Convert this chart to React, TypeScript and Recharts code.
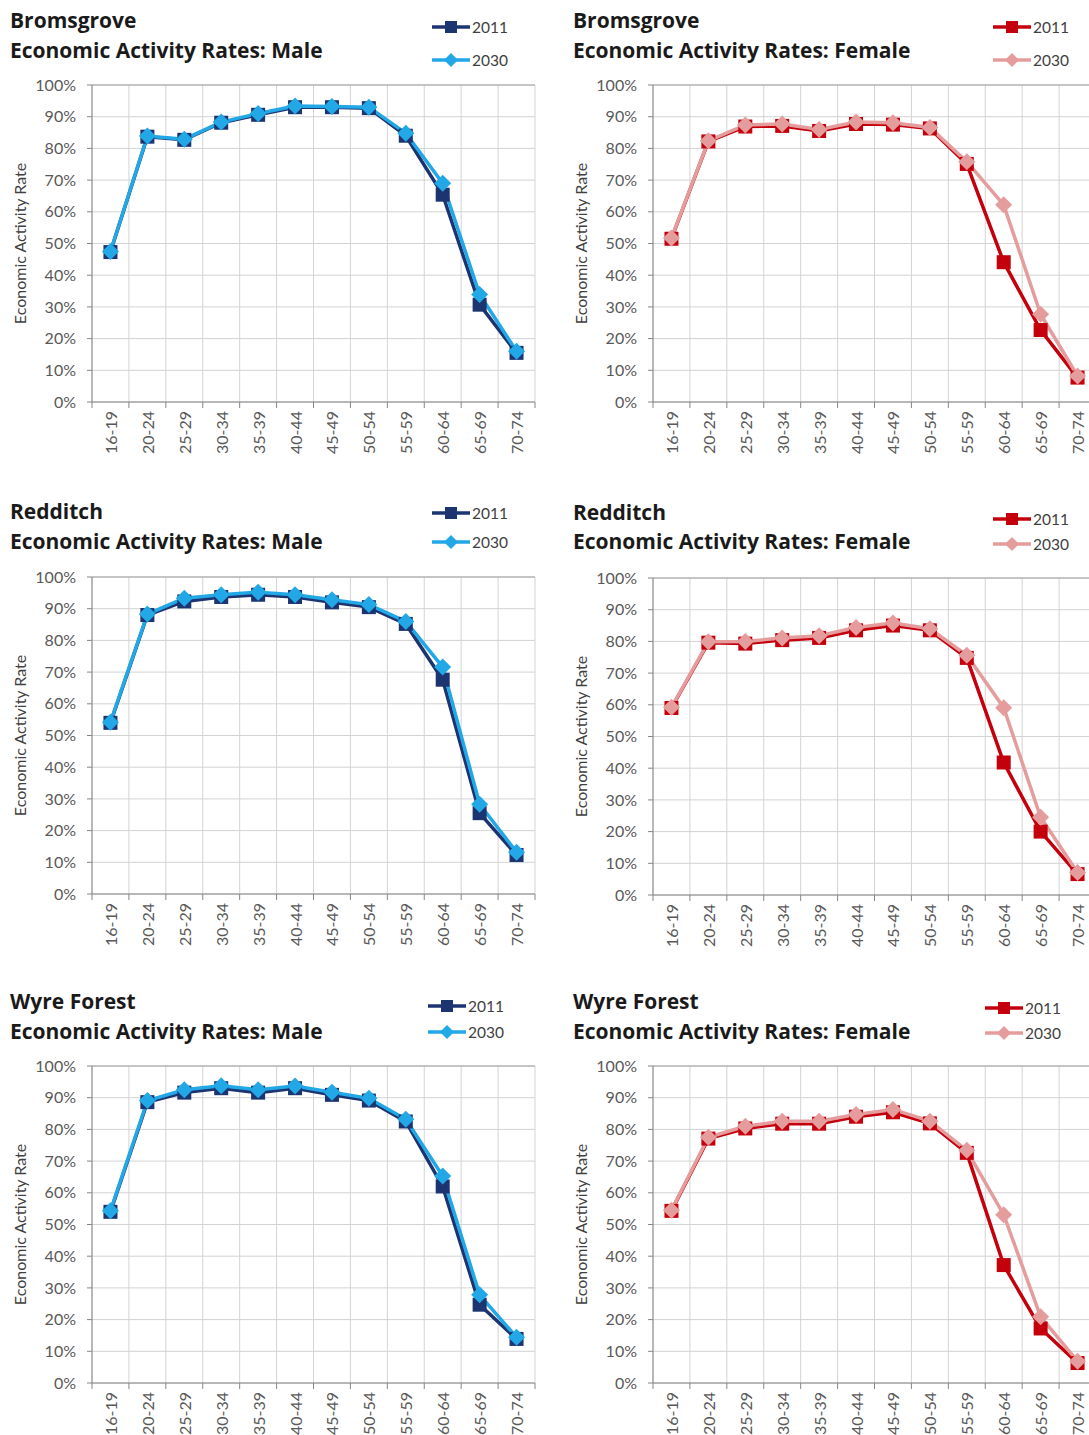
import { LineChart, Line, XAxis, YAxis, CartesianGrid, ReferenceLine, Label } from "recharts"

const AGES = ["16-19", "20-24", "25-29", "30-34", "35-39", "40-44", "45-49", "50-54", "55-59", "60-64", "65-69", "70-74"]
const Y_TICKS = [0, 10, 20, 30, 40, 50, 60, 70, 80, 90, 100]

const bromsMale2011 = [47.3, 83.7, 82.7, 88.1, 90.6, 93.0, 93.0, 92.7, 84.0, 65.4, 30.7, 15.5]
const bromsMale2030 = [47.5, 83.9, 82.9, 88.3, 91.0, 93.4, 93.2, 93.0, 84.8, 69.0, 33.9, 16.0]
const bromsFemale2011 = [51.5, 82.2, 86.9, 87.1, 85.5, 87.7, 87.5, 86.3, 75.1, 44.1, 22.7, 7.7]
const bromsFemale2030 = [51.7, 82.4, 87.4, 87.7, 86.0, 88.3, 88.1, 86.6, 75.8, 62.2, 27.7, 8.2]

const reddMale2011 = [54.0, 88.0, 92.3, 93.7, 94.4, 93.7, 92.0, 90.5, 85.2, 67.6, 25.5, 12.3]
const reddMale2030 = [54.2, 88.3, 93.3, 94.4, 95.2, 94.4, 92.8, 91.3, 86.0, 71.6, 28.3, 13.2]
const reddFemale2011 = [59.0, 79.6, 79.3, 80.4, 81.1, 83.5, 85.0, 83.5, 74.8, 41.8, 20.0, 6.6]
const reddFemale2030 = [59.2, 79.9, 80.0, 81.1, 81.8, 84.4, 85.8, 84.0, 75.6, 59.1, 24.5, 7.1]

const wyreMale2011 = [54.0, 88.6, 91.6, 93.0, 91.6, 93.0, 90.9, 89.1, 82.5, 62.0, 24.7, 13.9]
const wyreMale2030 = [54.3, 89.1, 92.5, 93.8, 92.5, 93.7, 91.7, 89.8, 83.2, 65.3, 27.8, 14.4]
const wyreFemale2011 = [54.3, 77.1, 80.3, 81.8, 81.8, 84.0, 85.4, 81.9, 72.6, 37.2, 17.2, 6.3]
const wyreFemale2030 = [54.5, 77.5, 81.0, 82.6, 82.6, 84.7, 86.3, 82.6, 73.4, 53.1, 20.9, 6.9]

const MALE = { c2011: "#1c3470", c2030: "#22a8e6" }
const FEMALE = { c2011: "#c4000c", c2030: "#e59c9c" }

const FONT = "Lato, 'Open Sans', sans-serif"
const TITLE_FONT = "'Open Sans', Lato, sans-serif"
const AXIS = "#868686"
const TICK_TXT = "#595959"
const PLOT_W = 443
const PLOT_H = 317
const HALF_BAND = PLOT_W / AGES.length / 2

const rows = (a: number[], b: number[]) => AGES.map((age, i) => ({ age, y2011: a[i], y2030: b[i] }))

const square = (color: string) => (p: any) => (
  <rect key={`s${p.index}`} x={p.cx - 7} y={p.cy - 7} width={14} height={14} fill={color} />
)
const diamond = (color: string) => (p: any) => (
  <path key={`d${p.index}`} d={`M${p.cx},${p.cy - 8.5}L${p.cx + 8.5},${p.cy}L${p.cx},${p.cy + 8.5}L${p.cx - 8.5},${p.cy}Z`} fill={color} />
)

function AgeTick(props: any) {
  const { x, y, payload, index } = props
  const half = HALF_BAND
  return (
    <g>
      <line x1={x - half} x2={x - half} y1={y} y2={y + 6} stroke={AXIS} />
      {index === AGES.length - 1 && <line x1={x + half} x2={x + half} y1={y} y2={y + 6} stroke={AXIS} />}
      <text x={x} y={y + 9} transform={`rotate(-90, ${x}, ${y + 9})`} textAnchor="end" dominantBaseline="central"
        fill={TICK_TXT} fontSize={16} fontFamily={FONT}>
        {payload.value}
      </text>
    </g>
  )
}

const bounds = ({ offset }: any) =>
  Array.from({ length: AGES.length + 1 }, (_, i) => offset.left + (i * offset.width) / AGES.length)

function LegendBox({ x, y1, y2, colors }: { x: number; y1: number; y2: number; colors: { c2011: string; c2030: string } }) {
  const item = (y: number, label: string, color: string, shape: "sq" | "dia") => (
    <div style={{ position: "absolute", left: x, top: y - 10, height: 20, display: "flex", alignItems: "center" }}>
      <svg width={38} height={20}>
        <line x1={0} x2={38} y1={10} y2={10} stroke={color} strokeWidth={3.5} />
        {shape === "sq"
          ? <rect x={13} y={4} width={12} height={12} fill={color} />
          : <path d="M19,3L26,10L19,17L12,10Z" fill={color} />}
      </svg>
      <span style={{ fontFamily: FONT, fontSize: 15.5, color: "#404040", marginLeft: 2 }}>{label}</span>
    </div>
  )
  return (
    <>
      {item(y1, "2011", colors.c2011, "sq")}
      {item(y2, "2030", colors.c2030, "dia")}
    </>
  )
}

type PanelProps = {
  place: string
  sex: string
  data: { age: string; y2011: number; y2030: number }[]
  colors: { c2011: string; c2030: string }
  titleX: number
  t1: number
  t2: number
  plotLeft: number
  plotTop: number
  legX: number
  leg1: number
  leg2: number
}

function Panel(p: PanelProps) {
  const title: React.CSSProperties = {
    position: "absolute", left: p.titleX, fontFamily: TITLE_FONT, fontWeight: 700, fontSize: 21,
    color: "#1a1a1a", lineHeight: "26px", whiteSpace: "nowrap",
  }
  return (
    <>
      <div style={{ ...title, top: p.t1 - 13 }}>{p.place}</div>
      <div style={{ ...title, top: p.t2 - 13 }}>Economic Activity Rates: {p.sex}</div>
      <LegendBox x={p.legX} y1={p.leg1} y2={p.leg2} colors={p.colors} />
      <div style={{ position: "absolute", left: p.plotLeft - 92, top: p.plotTop - 10 }}>
        <LineChart width={92 + PLOT_W + 10} height={10 + PLOT_H + 70} data={p.data}
          margin={{ top: 10, right: 10, bottom: 0, left: 0 }}>
          <CartesianGrid stroke="#d3d3d3" verticalCoordinatesGenerator={bounds} />
          <ReferenceLine y={100} stroke="#a0a0a0" />
          <XAxis dataKey="age" height={70} interval={0} tickSize={0} tickMargin={0}
            padding={{ left: HALF_BAND, right: HALF_BAND }}
            axisLine={{ stroke: AXIS }} tickLine={false} tick={<AgeTick />} />
          <YAxis type="number" domain={[0, 100]} ticks={Y_TICKS} width={92} interval={0}
            tickFormatter={(v: number) => `${v}%`} tickSize={5} tickMargin={11}
            axisLine={{ stroke: AXIS }} tickLine={{ stroke: AXIS }}
            tick={{ fill: TICK_TXT, fontSize: 16, fontFamily: FONT }}>
            <Label content={({ viewBox }: any) => {
              const cx = viewBox.x + 19
              const cy = viewBox.y + viewBox.height / 2
              return (
                <text x={cx} y={cy} transform={`rotate(-90, ${cx}, ${cy})`} textAnchor="middle"
                  dominantBaseline="central" fill="#404040" fontSize={16} fontFamily={FONT}>
                  Economic Activity Rate
                </text>
              )
            }} />
          </YAxis>
          <Line dataKey="y2011" stroke={p.colors.c2011} strokeWidth={3.5} dot={square(p.colors.c2011)}
            activeDot={false} isAnimationActive={false} />
          <Line dataKey="y2030" stroke={p.colors.c2030} strokeWidth={3.5} dot={diamond(p.colors.c2030)}
            activeDot={false} isAnimationActive={false} />
        </LineChart>
      </div>
    </>
  )
}

export default function App() {
  return (
    <div style={{ position: "absolute", left: 0, top: 0, width: 1089, height: 1435, overflow: "hidden", background: "#fff" }}>
      <Panel place="Bromsgrove" sex="Male" data={rows(bromsMale2011, bromsMale2030)} colors={MALE}
        titleX={10} t1={20} t2={50} plotLeft={92} plotTop={85} legX={432} leg1={27} leg2={60} />
      <Panel place="Bromsgrove" sex="Female" data={rows(bromsFemale2011, bromsFemale2030)} colors={FEMALE}
        titleX={573} t1={20} t2={50} plotLeft={653} plotTop={85} legX={993} leg1={27} leg2={60} />
      <Panel place="Redditch" sex="Male" data={rows(reddMale2011, reddMale2030)} colors={MALE}
        titleX={10} t1={511} t2={541} plotLeft={92} plotTop={577} legX={432} leg1={513} leg2={542} />
      <Panel place="Redditch" sex="Female" data={rows(reddFemale2011, reddFemale2030)} colors={FEMALE}
        titleX={573} t1={512} t2={541} plotLeft={653} plotTop={578} legX={993} leg1={519} leg2={544} />
      <Panel place="Wyre Forest" sex="Male" data={rows(wyreMale2011, wyreMale2030)} colors={MALE}
        titleX={10} t1={1001} t2={1031} plotLeft={92} plotTop={1066} legX={428} leg1={1006} leg2={1032} />
      <Panel place="Wyre Forest" sex="Female" data={rows(wyreFemale2011, wyreFemale2030)} colors={FEMALE}
        titleX={573} t1={1001} t2={1031} plotLeft={653} plotTop={1066} legX={985} leg1={1008} leg2={1033} />
    </div>
  )
}
